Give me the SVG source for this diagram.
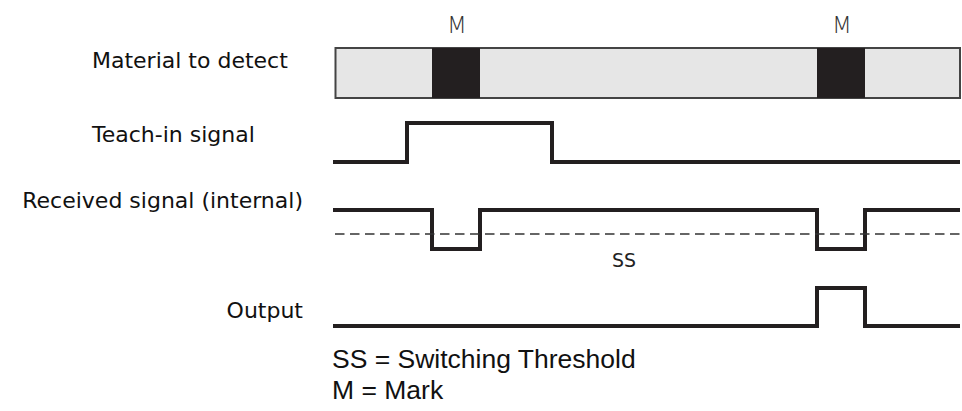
<svg xmlns="http://www.w3.org/2000/svg" width="962" height="411" viewBox="0 0 962 411">
<style>
.lbl{font-family:"DejaVu Sans","Liberation Sans",sans-serif;font-size:22px;fill:#111}
.leg{font-family:"Liberation Sans",Arial,sans-serif;font-size:26.5px;fill:#111}
.mk{font-family:"DejaVu Sans","Liberation Sans",sans-serif;font-size:23px;font-weight:200;fill:#333;text-anchor:middle}
.sig{fill:none;stroke:#231f20;stroke-width:4;stroke-linejoin:miter;stroke-linecap:butt}
</style>
<rect width="962" height="411" fill="#fff"/>
<g id="labels">
<text class="lbl" x="92" y="68">Material to detect</text>
<text class="lbl" x="92" y="142">Teach-in signal</text>
<text class="lbl" x="303" y="208" text-anchor="end">Received signal (internal)</text>
<text class="lbl" x="303" y="318" text-anchor="end">Output</text>
</g>
<g id="material">
<rect x="335.5" y="48" width="624.5" height="50" fill="#e6e6e6" stroke="#444" stroke-width="2"/>
<rect x="432" y="48" width="48" height="50" fill="#231f20"/>
<rect x="817" y="48" width="48" height="50" fill="#231f20"/>
<text class="mk" x="457" y="33">M</text>
<text class="mk" x="842" y="33">M</text>
</g>
<g id="connectors">
<path id="teach" class="sig" d="M333,162 H407 V123 H552 V162 H960"/>
<path id="received" class="sig" d="M333,210 H432 V249 H480 V210 H817 V249 H865 V210 H960"/>
<line id="threshold" x1="335" y1="234" x2="960" y2="234" stroke="#333" stroke-width="1.7" stroke-dasharray="9.5 5.5"/>
<path id="output" class="sig" d="M333,326 H817 V288 H865 V326 H960"/>
</g>
<g id="ss">
<text x="624" y="267" font-family="DejaVu Sans, Liberation Sans, sans-serif" font-size="19" fill="#222" text-anchor="middle" textLength="24" lengthAdjust="spacingAndGlyphs">SS</text>
</g>
<g id="legend">
<text class="leg" x="332" y="368">SS = Switching Threshold</text>
<text class="leg" x="332" y="399">M = Mark</text>
</g>
</svg>
